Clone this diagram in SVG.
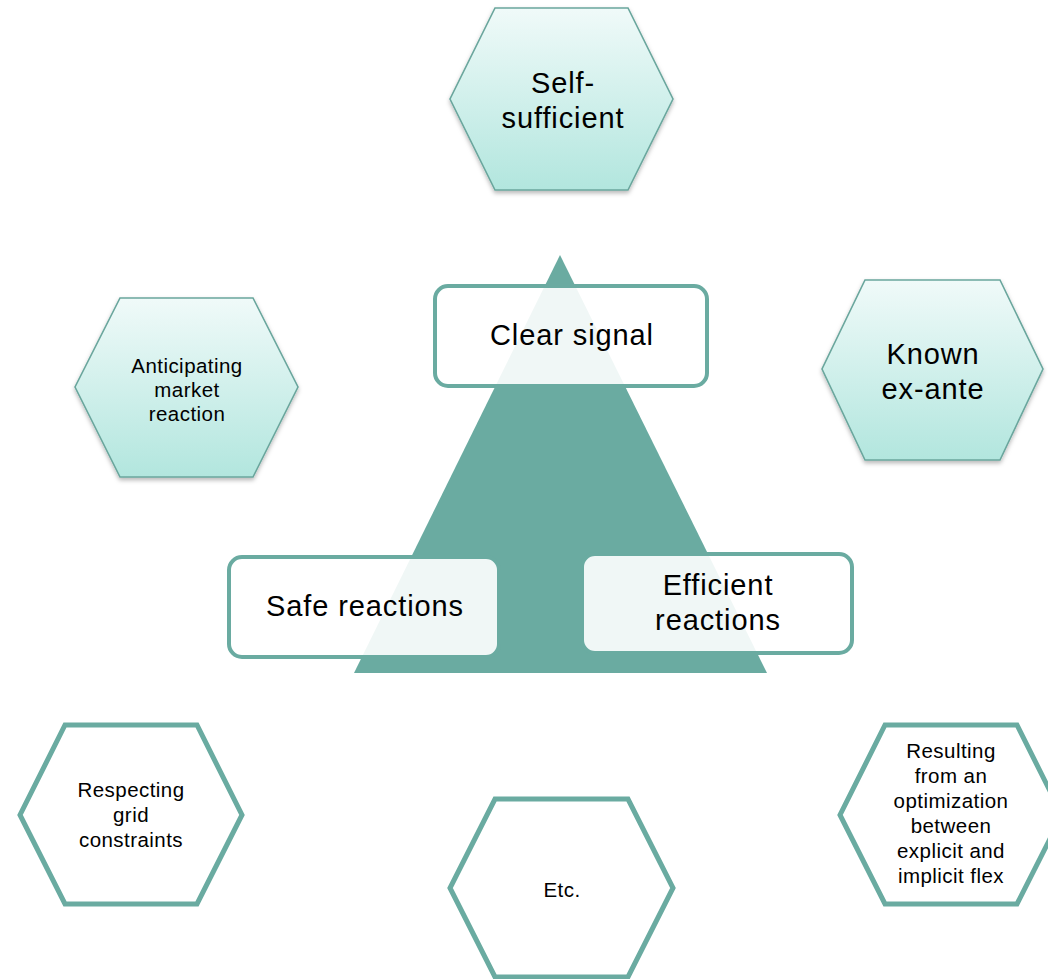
<svg xmlns="http://www.w3.org/2000/svg" width="1048" height="979" viewBox="0 0 1048 979">
  <defs>
    <linearGradient id="hexFill" x1="0" y1="0" x2="0" y2="1">
      <stop offset="0" stop-color="#f0faf9"/>
      <stop offset="1" stop-color="#b2e6de"/>
    </linearGradient>
    <filter id="softShadow" x="-10%" y="-10%" width="120%" height="125%">
      <feDropShadow dx="0" dy="2.5" stdDeviation="2" flood-color="#000" flood-opacity="0.28"/>
    </filter>
  </defs>
  <style>
    .hex-soft { fill: url(#hexFill); stroke: #6aa69d; stroke-width: 1.6; filter: url(#softShadow); }
    .hex-open { fill: #ffffff; stroke: #6aaba1; stroke-width: 5; stroke-linejoin: miter; }
    .pyramid { fill: #6aaba1; }
    .box { fill: #ffffff; fill-opacity: 0.9; stroke: #6aaba1; stroke-width: 4; }
    text { font-family: "Liberation Sans", Arial, sans-serif; fill: #000; text-anchor: middle; }
    .big { font-size: 29px; letter-spacing: 0.9px; }
    .small { font-size: 20.5px; letter-spacing: 0.45px; }
  </style>

  <rect width="1048" height="979" fill="#ffffff"/>

  <!-- central pyramid -->
  <g id="pyramid">
    <polygon class="pyramid" points="560,255 767,673 354,673"/>
  </g>

  <g id="connectors"/>

  <!-- pillars of the pyramid -->
  <g id="clear-signal">
    <rect class="box" x="435" y="286" width="272" height="100" rx="13"/>
    <text class="big" x="572" y="345">Clear signal</text>
  </g>
  <g id="safe-reactions">
    <rect class="box" x="229" y="557" width="270" height="100" rx="13"/>
    <text class="big" x="365" y="616">Safe reactions</text>
  </g>
  <g id="efficient-reactions">
    <rect class="box" x="582" y="554" width="270" height="99" rx="13"/>
    <text class="big" x="718" y="595">Efficient</text>
    <text class="big" x="718" y="630">reactions</text>
  </g>

  <!-- shaded hexagons -->
  <g id="self-sufficient">
    <polygon class="hex-soft" points="495,8 628,8 673,99 628,190 495,190 450,99"/>
    <text class="big" x="563" y="93">Self-</text>
    <text class="big" x="563" y="128">sufficient</text>
  </g>
  <g id="known-ex-ante">
    <polygon class="hex-soft" points="865,280 1000,280 1043,369 1000,460 865,460 822,369"/>
    <text class="big" x="933" y="364">Known</text>
    <text class="big" x="933" y="399">ex-ante</text>
  </g>
  <g id="anticipating">
    <polygon class="hex-soft" points="120,298 253,298 298,387 253,477 120,477 75,387"/>
    <text class="small" x="187" y="373">Anticipating</text>
    <text class="small" x="187" y="397">market</text>
    <text class="small" x="187" y="421">reaction</text>
  </g>

  <!-- outlined hexagons -->
  <g id="grid-constraints">
    <polygon class="hex-open" points="65,725 197,725 242,815 197,904 65,904 20,815"/>
    <text class="small" x="131" y="797">Respecting</text>
    <text class="small" x="131" y="822">grid</text>
    <text class="small" x="131" y="847">constraints</text>
  </g>
  <g id="optimization">
    <polygon class="hex-open" points="885,725 1017,725 1062,815 1017,904 885,904 840,815"/>
    <text class="small" x="951" y="758">Resulting</text>
    <text class="small" x="951" y="783">from an</text>
    <text class="small" x="951" y="808">optimization</text>
    <text class="small" x="951" y="833">between</text>
    <text class="small" x="951" y="858">explicit and</text>
    <text class="small" x="951" y="883">implicit flex</text>
  </g>
  <g id="etc">
    <polygon class="hex-open" points="495,799 628,799 673,888 628,977 495,977 450,888"/>
    <text class="small" x="562" y="897">Etc.</text>
  </g>
</svg>
